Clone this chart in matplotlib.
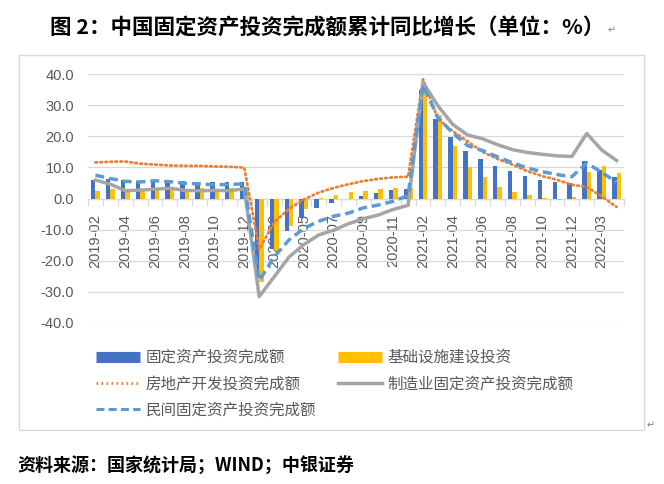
import numpy as np
import matplotlib.pyplot as plt
from matplotlib.patches import Rectangle
from matplotlib.lines import Line2D

plt.rcParams['font.family'] = ['Noto Sans CJK SC', 'DejaVu Sans']

months = ['2019-02', '2019-03', '2019-04', '2019-05', '2019-06', '2019-07', '2019-08',
          '2019-09', '2019-10', '2019-11', '2019-12',
          '2020-02', '2020-03', '2020-04', '2020-05', '2020-06', '2020-07', '2020-08',
          '2020-09', '2020-10', '2020-11', '2020-12',
          '2021-02', '2021-03', '2021-04', '2021-05', '2021-06', '2021-07', '2021-08',
          '2021-09', '2021-10', '2021-11', '2021-12',
          '2022-02', '2022-03', '2022-04']

fai = [6.1, 6.3, 6.1, 5.6, 5.8, 5.7, 5.5, 5.4, 5.2, 5.2, 5.4,
       -24.5, -16.1, -10.3, -6.3, -3.1, -1.6, -0.3, 0.8, 1.8, 2.6, 2.9,
       35.0, 25.6, 19.9, 15.4, 12.6, 10.3, 8.9, 7.3, 6.1, 5.2, 4.9,
       12.2, 9.3, 6.8]
infra = [2.5, 3.0, 3.0, 2.6, 2.9, 3.0, 3.2, 3.4, 3.2, 3.5, 3.3,
         -26.9, -16.4, -8.8, -3.3, 0.1, 1.2, 2.0, 2.4, 3.0, 3.3, 3.4,
         36.6, 26.8, 17.0, 10.2, 6.9, 3.8, 2.2, 1.2, 0.3, -0.4, 0.4,
         8.6, 10.5, 8.3]
realty = [11.6, 11.8, 11.9, 11.2, 10.9, 10.6, 10.5, 10.5, 10.3, 10.2, 9.9,
          -16.3, -7.7, -3.3, -0.3, 1.9, 3.4, 4.6, 5.6, 6.3, 6.8, 7.0,
          38.3, 25.6, 21.6, 18.3, 15.0, 12.7, 10.9, 8.8, 7.2, 6.0, 4.4,
          3.7, 0.7, -2.7]
manuf = [5.9, 4.6, 2.5, 2.7, 3.0, 3.3, 2.6, 2.5, 2.6, 2.5, 3.1,
         -31.5, -25.2, -18.8, -14.8, -11.7, -10.2, -8.1, -6.5, -5.3, -3.5, -2.2,
         37.3, 29.8, 23.8, 20.4, 19.2, 17.3, 15.7, 14.8, 14.2, 13.7, 13.5,
         20.9, 15.6, 12.2]
private = [7.5, 6.4, 5.5, 5.3, 5.7, 5.4, 4.9, 4.7, 4.4, 4.5, 4.7,
           -26.4, -18.8, -13.3, -9.6, -7.3, -5.7, -4.7, -3.0, -2.1, -0.9, 1.0,
           36.4, 26.0, 21.0, 17.0, 15.4, 13.4, 11.5, 9.8, 8.6, 7.7, 7.0,
           11.4, 8.4, 5.3]

names = ['固定资产投资完成额', '基础设施建设投资', '房地产开发投资完成额',
         '制造业固定资产投资完成额', '民间固定资产投资完成额']

W, H = 664, 484
fig = plt.figure(figsize=(W / 100, H / 100), dpi=100)

# frame around the chart
fig.patches.append(Rectangle((19 / W, 1 - 430 / H), (644 - 19) / W, (430 - 55) / H,
                             transform=fig.transFigure, fill=False,
                             edgecolor='#D9D9D9', lw=1))

ax = fig.add_axes([88 / W, 1 - 323 / H, (624 - 88) / W, (323 - 74) / H])
x = np.arange(len(months))
grey = '#595959'

ax.bar(x - 0.15, fai, width=0.3, color='#4472C4', zorder=2)
ax.bar(x + 0.15, infra, width=0.3, color='#FFC000', zorder=2)
ax.plot(x, realty, color='#ED7D31', lw=2, linestyle=(0, (0.6, 1.2)),
        dash_capstyle='round', zorder=3)
ax.plot(x, manuf, color='#A5A5A5', lw=2.5, zorder=3)
ax.plot(x, private, color='#5B9BD5', lw=2.5, linestyle=(0, (2.6, 1.4)), zorder=4)

ax.set_xlim(-0.5, len(months) - 0.5)
ax.set_ylim(-40, 40)
ax.set_yticks(np.arange(-40, 41, 10))
ax.set_yticklabels([f'{v:.1f}' for v in np.arange(-40, 41, 10)],
                   fontsize=10.5, color=grey, family='Liberation Sans')
ax.grid(axis='y', color='#D9D9D9', lw=0.9, zorder=0)
ax.tick_params(axis='y', length=0, pad=10)

for s in ['left', 'top', 'right']:
    ax.spines[s].set_visible(False)
ax.spines['bottom'].set_position(('data', 0))
ax.spines['bottom'].set_color('#D9D9D9')
ax.spines['bottom'].set_zorder(1)

ax.set_xticks(x[::2])
ax.set_xticklabels(months[::2], rotation=90, fontsize=10.5, color=grey,
                   family='Liberation Sans', va='top')
ax.set_xticks(np.arange(-0.5, len(months), 1), minor=True)
ax.tick_params(axis='x', which='major', length=0, pad=11)
ax.tick_params(axis='x', which='minor', length=5, color='#D9D9D9', width=0.9)

handles = [
    Line2D([], [], color='#4472C4', lw=8, solid_capstyle='butt'),
    Line2D([], [], color='#ED7D31', lw=2, linestyle=(0, (0.6, 1.2))),
    Line2D([], [], color='#5B9BD5', lw=2.2, linestyle=(0, (2.6, 1.4))),
    Line2D([], [], color='#FFC000', lw=8, solid_capstyle='butt'),
    Line2D([], [], color='#A5A5A5', lw=2.5),
]
labels = [names[0], names[2], names[4], names[1], names[3]]
fig.legend(handles, labels, loc='upper left', bbox_to_anchor=(96 / W, 1 - 349 / H),
           ncol=2, frameon=False, fontsize=11.2, labelcolor=grey,
           handlelength=2.8, handletextpad=0.4, columnspacing=1.4,
           labelspacing=0.6, borderpad=0, borderaxespad=0)

fig.text(327 / W, 1 - 28 / H, '图 2：中国固定资产投资完成额累计同比增长（单位：%）',
         ha='center', va='center', fontsize=15.5, fontweight='bold', color='black')
fig.text(608 / W, 1 - 30 / H, '↵', ha='left', va='center', fontsize=7, color='#7F7F7F',
         family=['DejaVu Sans'])
fig.text(647 / W, 1 - 425 / H, '↵', ha='left', va='center', fontsize=7, color='#7F7F7F',
         family=['DejaVu Sans'])
fig.text(17 / W, 1 - 466 / H, '资料来源：国家统计局；WIND；中银证券',
         ha='left', va='center', fontsize=13, fontweight='bold', color='black')

fig.savefig('out.png', dpi=100)
